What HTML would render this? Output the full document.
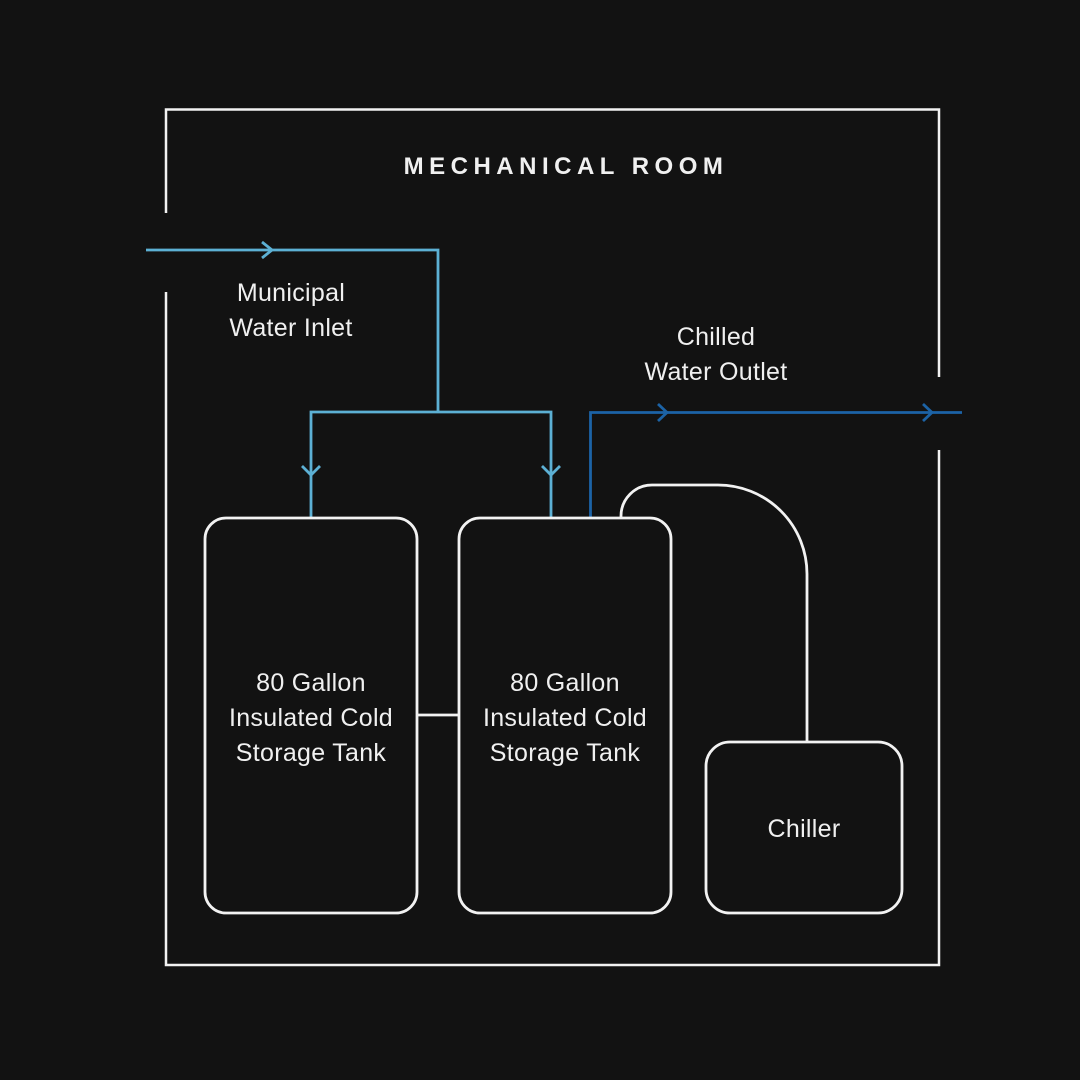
<!DOCTYPE html>
<html>
<head>
<meta charset="utf-8">
<style>
  html,body{margin:0;padding:0;background:#121212;}
  svg{display:block;}
  text{font-family:"Liberation Sans",sans-serif;fill:#f0f0f0;}
</style>
</head>
<body>
<svg width="1080" height="1080" viewBox="0 0 1080 1080" xmlns="http://www.w3.org/2000/svg">
  <rect x="0" y="0" width="1080" height="1080" fill="#121212"/>

  <!-- Room walls -->
  <g fill="none" stroke="#f2f2f2" stroke-width="2.5">
    <polyline points="166,213 166,109.5 939,109.5 939,377"/>
    <polyline points="166,292 166,965 939,965 939,450"/>
  </g>

  <!-- Title -->
  <text x="566" y="174" font-size="24" font-weight="bold" letter-spacing="5.5" text-anchor="middle">MECHANICAL ROOM</text>

  <!-- Municipal inlet (light blue) -->
  <g fill="none" stroke="#5cb0d4" stroke-width="2.8" stroke-linejoin="miter">
    <polyline points="146,250 438,250 438,412"/>
    <polyline points="311,518 311,412 551,412 551,518"/>
    <polyline points="262,242 272,250 262,258"/>
    <polyline points="302,466 311,475 320,466"/>
    <polyline points="542,466 551,475 560,466"/>
  </g>

  <!-- Chilled outlet (dark blue) -->
  <g fill="none" stroke="#1c63a6" stroke-width="2.8">
    <polyline points="590.5,518 590.5,412.5 962,412.5"/>
    <polyline points="658,404 667,412.5 658,421"/>
    <polyline points="923,404 932,412.5 923,421"/>
  </g>

  <!-- Chiller pipe -->
  <path d="M621,518 L621,516 A31,31 0 0 1 652,485 L718,485 A89,89 0 0 1 807,574 L807,742" fill="none" stroke="#f2f2f2" stroke-width="2.8"/>

  <!-- Tanks -->
  <g fill="#121212" stroke="#f2f2f2" stroke-width="2.8">
    <rect x="205" y="518" width="212" height="395" rx="21" ry="21"/>
    <rect x="459" y="518" width="212" height="395" rx="21" ry="21"/>
    <rect x="706" y="742" width="196" height="171" rx="24" ry="24"/>
  </g>
  <line x1="417" y1="715" x2="459" y2="715" stroke="#f2f2f2" stroke-width="2.8"/>

  <!-- Labels -->
  <g font-size="25" text-anchor="middle" letter-spacing="0.3">
    <text x="291" y="301">Municipal</text>
    <text x="291" y="336">Water Inlet</text>
    <text x="716" y="345">Chilled</text>
    <text x="716" y="380">Water Outlet</text>

    <text x="311" y="691">80 Gallon</text>
    <text x="311" y="726">Insulated Cold</text>
    <text x="311" y="761">Storage Tank</text>

    <text x="565" y="691">80 Gallon</text>
    <text x="565" y="726">Insulated Cold</text>
    <text x="565" y="761">Storage Tank</text>

    <text x="804" y="837">Chiller</text>
  </g>
</svg>
</body>
</html>
